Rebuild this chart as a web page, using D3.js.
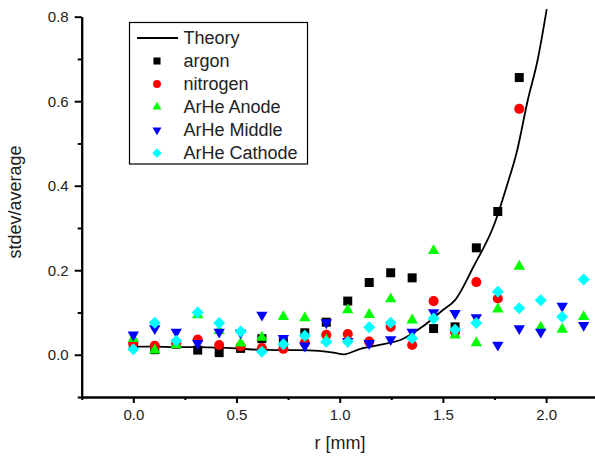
<!DOCTYPE html>
<html>
<head>
<meta charset="utf-8">
<script src="https://cdn.jsdelivr.net/npm/d3@7"></script>
<style>
body { margin: 0; background: #fff; }
text { font-family: Arial, "Liberation Sans", sans-serif; fill: #222; }
</style>
</head>
<body>
<svg id="chart" width="595" height="457"></svg>
<script>
// radial positions of the measurements (mm)
var r_pos = [0, 0.104, 0.208, 0.312, 0.416, 0.52, 0.623, 0.727, 0.831, 0.935, 1.039,
	1.143, 1.247, 1.351, 1.455, 1.559, 1.662, 1.766, 1.87, 1.974, 2.078, 2.182];

var argon = [0.02, 0.012, 0.025, 0.011, 0.005, 0.015, 0.038, 0.03, 0.052, 0.077, 0.127,
	0.171, 0.194, 0.182, 0.062, 0.066, 0.253, 0.339, 0.656];
var nitrogen = [0.027, 0.021, 0.027, 0.036, 0.023, 0.02, 0.016, 0.014, 0.028, 0.047, 0.049,
	0.031, 0.066, 0.023, 0.127, 0.054, 0.172, 0.133, 0.582];
var arhe_anode = [0.038, 0.011, 0.023, 0.094, 0.057, 0.027, 0.041, 0.09, 0.087, 0.035, 0.106,
	0.095, 0.132, 0.082, 0.246, 0.046, 0.028, 0.108, 0.209, 0.065, 0.06, 0.09];
var arhe_middle = [0.047, 0.062, 0.054, 0.027, 0.054, 0.052, 0.094, 0.039, 0.021, 0.076, 0.032,
	0.027, 0.036, 0.054, 0.1, 0.098, 0.088, 0.023, 0.062, 0.054, 0.115, 0.07];
var arhe_cathode = [0.013, 0.076, 0.033, 0.1, 0.075, 0.055, 0.007, 0.025, 0.045, 0.031, 0.031,
	0.065, 0.076, 0.039, 0.086, 0.059, 0.075, 0.149, 0.11, 0.129, 0.09, 0.178];

var theory_r = [0, 0.1, 0.2, 0.3, 0.4, 0.5, 0.6, 0.7, 0.8, 0.9, 0.97, 1.02,
	1.1, 1.2, 1.3, 1.4, 1.5, 1.56, 1.65, 1.75, 1.81, 1.86, 1.91, 1.96, 2.003];
var theory_v = [0.019, 0.019, 0.018, 0.018, 0.017, 0.015, 0.012, 0.011, 0.011, 0.009, 0.005, 0.001,
	0.014, 0.024, 0.036, 0.066, 0.106, 0.13, 0.21, 0.31, 0.4, 0.484, 0.6, 0.7, 0.818];

var y_major = [0, 0.2, 0.4, 0.6, 0.8];
var y_minor = [-0.1, 0.1, 0.3, 0.5, 0.7];
var x_major = [0, 0.5, 1.0, 1.5, 2.0];
var x_minor = [-0.25, 0.25, 0.75, 1.25, 1.75];

var svg = d3.select('#chart');

var x = d3.scaleLinear().domain([-0.25, 2.25]).range([81.7, 597.7]);
var y = d3.scaleLinear().domain([-0.1, 0.8]).range([397, 16.7]);

// axes
var gy = svg.append('g').attr('transform', 'translate(' + x(-0.25) + ',0)')
	.call(d3.axisLeft(y).tickValues(y_major).tickSize(7).tickSizeOuter(0).tickPadding(6).tickFormat(d3.format('.1f')));
var gym = svg.append('g').attr('transform', 'translate(' + x(-0.25) + ',0)')
	.call(d3.axisLeft(y).tickValues(y_minor).tickSize(4).tickSizeOuter(0).tickFormat(''));
var gx = svg.append('g').attr('transform', 'translate(0,' + y(-0.1) + ')')
	.call(d3.axisBottom(x).tickValues(x_major).tickSize(6).tickSizeOuter(0).tickPadding(6).tickFormat(d3.format('.1f')));
var gxm = svg.append('g').attr('transform', 'translate(0,' + y(-0.1) + ')')
	.call(d3.axisBottom(x).tickValues(x_minor).tickSize(3).tickSizeOuter(0).tickFormat(''));

[gy, gym, gx, gxm].forEach(function(g) {
	g.selectAll('.domain').attr('stroke', '#000').attr('stroke-width', 2);
	g.selectAll('line').attr('stroke', '#000').attr('stroke-width', 2);
	g.selectAll('text').attr('font-size', 15).attr('font-family', 'Arial, "Liberation Sans", sans-serif').attr('fill', '#222');
});

svg.append('text').attr('transform', 'translate(21,202) rotate(-90)')
	.attr('text-anchor', 'middle').attr('font-size', 18).text('stdev/average');
svg.append('text').attr('x', 340).attr('y', 449)
	.attr('text-anchor', 'middle').attr('font-size', 18).text('r [mm]');

// theory line
var theory = theory_r.map((d, i) => [d, theory_v[i]]);
svg.append('path').datum(theory)
	.attr('d', d3.line().x(d => x(d[0])).y(d => y(d[1])).curve(d3.curveMonotoneX))
	.attr('fill', 'none').attr('stroke', '#000').attr('stroke-width', 1.8);

var series = [
	{name: 'argon', vals: argon, color: '#000000', type: d3.symbolSquare, size: 81, rot: 0},
	{name: 'nitrogen', vals: nitrogen, color: '#ff0000', type: d3.symbolCircle, size: 80, rot: 0},
	{name: 'ArHe Anode', vals: arhe_anode, color: '#00ff00', type: d3.symbolTriangle, size: 56, rot: 0},
	{name: 'ArHe Middle', vals: arhe_middle, color: '#0000ff', type: d3.symbolTriangle, size: 56, rot: 180},
	{name: 'ArHe Cathode', vals: arhe_cathode, color: '#00ffff', type: d3.symbolSquare, size: 72, rot: 45}
];

series.forEach(function(s) {
	svg.append('g').selectAll('path').data(s.vals).enter().append('path')
		.attr('d', d3.symbol().type(s.type).size(s.size))
		.attr('transform', (d, i) => 'translate(' + x(r_pos[i]) + ',' + y(d) + ') rotate(' + s.rot + ')')
		.attr('fill', s.color);
});

// legend
var legend = svg.append('g');
legend.append('rect').attr('x', 129.5).attr('y', 22.5).attr('width', 178).attr('height', 141.5)
	.attr('fill', '#fff').attr('stroke', '#000').attr('stroke-width', 1.2);
var row_y = d3.scaleLinear().domain([0, 5]).range([38, 153]);
legend.append('line').attr('x1', 137).attr('x2', 178).attr('y1', row_y(0)).attr('y2', row_y(0))
	.attr('stroke', '#000').attr('stroke-width', 2);
legend.append('text').attr('x', 183.5).attr('y', row_y(0)).attr('dy', '0.35em')
	.attr('font-size', 18).text('Theory');
series.forEach(function(s, i) {
	legend.append('path')
		.attr('d', d3.symbol().type(s.type).size(s.size * 0.62))
		.attr('transform', 'translate(157,' + row_y(i + 1) + ') rotate(' + s.rot + ')')
		.attr('fill', s.color);
	legend.append('text').attr('x', 183.5).attr('y', row_y(i + 1)).attr('dy', '0.35em')
		.attr('font-size', 18).text(s.name);
});
</script>
</body>
</html>
